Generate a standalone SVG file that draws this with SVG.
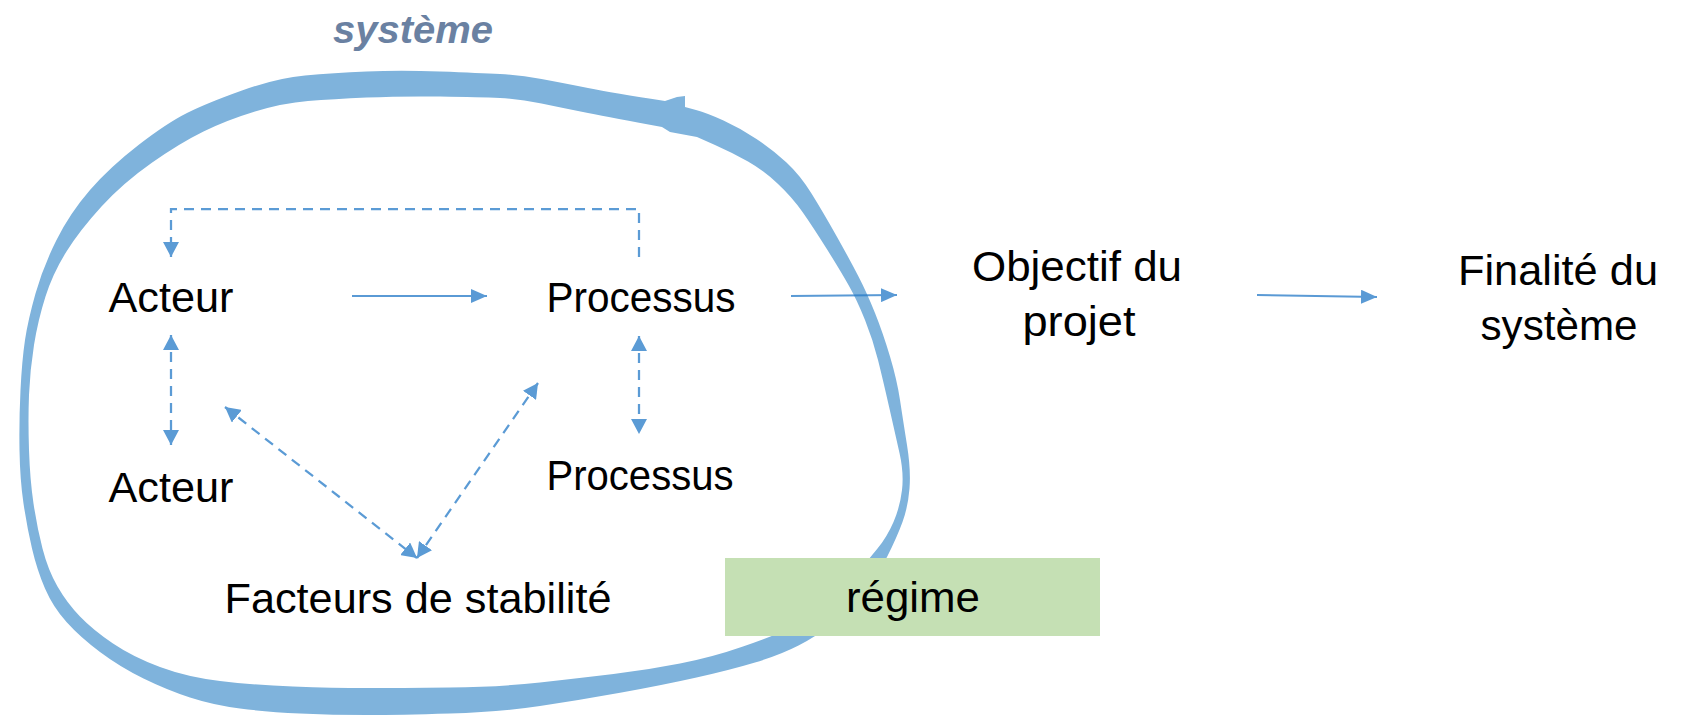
<svg xmlns="http://www.w3.org/2000/svg" width="1693" height="718" viewBox="0 0 1693 718">
  <style>
    .lbl { font-family: "Liberation Sans", Arial, sans-serif; font-size: 43px; fill: #000; text-anchor: middle; }
    .title { font-family: "Liberation Sans", Arial, sans-serif; font-size: 38px; font-weight: bold; font-style: italic; fill: #6A81A2; text-anchor: middle; }
    .boundary { fill: #7FB3DC; fill-rule: evenodd; stroke: none; }
    .regime-box { fill: #C5E0B4; stroke: none; }
    .flow { fill: none; stroke: #277BC8; stroke-width: 2; }
    .link { fill: none; stroke: #5B9BD5; stroke-width: 2.25; stroke-dasharray: 10 7; }
  </style>
  <defs>
    <marker id="head-solid" markerUnits="userSpaceOnUse" markerWidth="16" markerHeight="14" refX="16" refY="7" orient="auto">
      <path d="M0,0 L16,7 L0,14 Z" fill="#277BC8"/>
    </marker>
    <marker id="head-dash" markerUnits="userSpaceOnUse" markerWidth="15" markerHeight="16" refX="15" refY="8" orient="auto-start-reverse">
      <path d="M0,0 L15,8 L0,16 Z" fill="#5B9BD5"/>
    </marker>
  </defs>

  <!-- hand-drawn system boundary: outer and inner edge filled even-odd -->
  <g id="systeme-boundary">
    <path class="boundary" d="M685,107 L696,110 Q707,113 723.5,120.5 Q740,128 756.5,139 Q773,150 786.5,162.5 Q800,175 811.5,193.5 Q823,212 836.5,236 Q850,260 858.5,276.5 Q867,293 875,313 Q883,333 890,356.5 Q897,380 900,400 Q903,420 907,445 Q911,470 909.5,488.5 Q908,507 902.5,522 Q897,537 887.5,556 Q878,575 864,592.5 Q850,610 833.5,623 Q817,636 798.5,645.5 Q780,655 755,662.5 Q730,670 696.5,677.5 Q663,685 621.5,692.5 Q580,700 540,706 Q500,712 450,713.5 Q400,715 366.5,715 Q333,715 300,713.5 Q267,712 240,708.5 Q213,705 190,697.5 Q167,690 143.5,678.5 Q120,667 100,652 Q80,637 66.5,622 Q53,607 45,588.5 Q37,570 32,548.5 Q27,527 23.5,503.5 Q20,480 19.5,450 Q19,420 20.5,390 Q22,360 25,340 Q28,320 35.5,293.5 Q43,267 56.5,240 Q70,213 90,190 Q110,167 138.5,145 Q167,123 187,113 Q207,103 242,90.5 Q277,78 305,75.5 Q333,73 366.5,71.5 Q400,70 440,71.5 Q480,73 500,74 Q520,75 541.5,79 Q563,83 588,88 Q613,93 665,101 L677,97 L685,96 Z
M697,137 L715,145 Q733,153 748,161.5 Q763,170 777.5,183.5 Q792,197 802.5,212 Q813,227 826.5,248.5 Q840,270 848.5,285 Q857,300 865,320 Q873,340 878,360 Q883,380 889,406.5 Q895,433 899.5,453 Q904,473 902,490 Q900,507 893.5,522 Q887,537 877.5,548.5 Q868,560 854,577.5 Q840,595 822.5,608.5 Q805,622 789,629 Q773,636 743,646.5 Q713,657 680,663.5 Q647,670 613.5,674 Q580,678 540,682.5 Q500,687 450,687.5 Q400,688 366.5,688 Q333,688 293,686.5 Q253,685 220,681 Q187,677 160,667 Q133,657 113,643.5 Q93,630 80,616.5 Q67,603 57.5,586.5 Q48,570 42.5,548.5 Q37,527 33.5,503.5 Q30,480 29,450 Q28,420 29,395 Q30,370 34,345 Q38,320 45.5,296.5 Q53,273 66.5,251.5 Q80,230 101.5,206.5 Q123,183 151.5,163 Q180,143 203.5,131.5 Q227,120 255,111.5 Q283,103 308,101 Q333,99 366.5,97.5 Q400,96 440,96.5 Q480,97 500,98 Q520,99 541.5,103.5 Q563,108 588,113 Q613,118 662,127 L670,132 Z"/>
    <text class="title" x="413" y="43" textLength="160" lengthAdjust="spacingAndGlyphs">système</text>
  </g>

  <g id="regime">
    <rect class="regime-box" x="725" y="558" width="375" height="78"/>
    <text class="lbl" x="913" y="612" textLength="134" lengthAdjust="spacingAndGlyphs">régime</text>
  </g>

  <g id="acteur-1"><text class="lbl" x="171" y="312" textLength="125" lengthAdjust="spacingAndGlyphs">Acteur</text></g>
  <g id="processus-1"><text class="lbl" x="641" y="312" textLength="189" lengthAdjust="spacingAndGlyphs">Processus</text></g>
  <g id="acteur-2"><text class="lbl" x="171" y="502" textLength="125" lengthAdjust="spacingAndGlyphs">Acteur</text></g>
  <g id="processus-2"><text class="lbl" x="640" y="490" textLength="187" lengthAdjust="spacingAndGlyphs">Processus</text></g>
  <g id="facteurs"><text class="lbl" x="418" y="613" textLength="387" lengthAdjust="spacingAndGlyphs">Facteurs de stabilité</text></g>
  <g id="objectif">
    <text class="lbl" x="1077" y="281" textLength="210" lengthAdjust="spacingAndGlyphs">Objectif du</text>
    <text class="lbl" x="1079" y="336" textLength="113" lengthAdjust="spacingAndGlyphs">projet</text>
  </g>
  <g id="finalite">
    <text class="lbl" x="1558" y="285" textLength="200" lengthAdjust="spacingAndGlyphs">Finalité du</text>
    <text class="lbl" x="1559" y="340" textLength="157" lengthAdjust="spacingAndGlyphs">système</text>
  </g>

  <g id="connectors">
    <!-- main flow, slightly translucent so it darkens where it crosses the boundary -->
    <g opacity="0.76">
      <path class="flow" d="M352,296 H487" marker-end="url(#head-solid)"/>
      <path class="flow" d="M791,296 L897,295" marker-end="url(#head-solid)"/>
      <path class="flow" d="M1257,295 L1377,297" marker-end="url(#head-solid)"/>
    </g>
    <!-- dashed interactions -->
    <path class="link" d="M639,257 V209 H171 V257" marker-end="url(#head-dash)"/>
    <path class="link" d="M171,335 V445" marker-start="url(#head-dash)" marker-end="url(#head-dash)"/>
    <path class="link" d="M639,336 V434" marker-start="url(#head-dash)" marker-end="url(#head-dash)"/>
    <path class="link" d="M225,407 L417,558" marker-start="url(#head-dash)" marker-end="url(#head-dash)"/>
    <path class="link" d="M538,383 L417,558" marker-start="url(#head-dash)" marker-end="url(#head-dash)"/>
  </g>
</svg>
